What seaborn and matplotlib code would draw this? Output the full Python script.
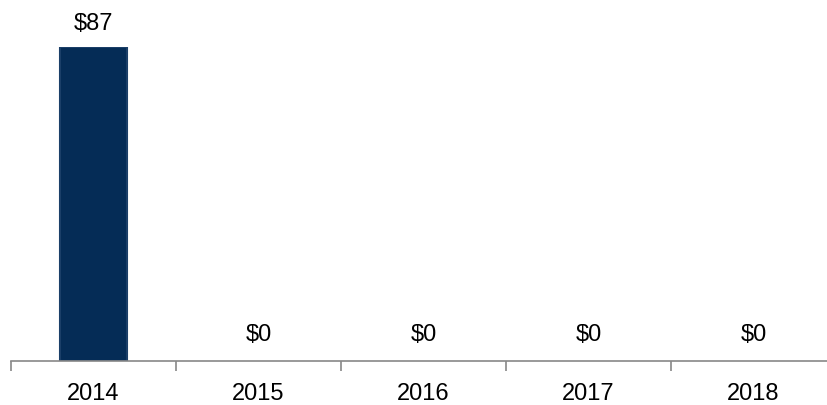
import numpy as np
import pandas as pd
import matplotlib.pyplot as plt
import seaborn as sns

years = ['2014', '2015', '2016', '2017', '2018']
values = [87, 0, 0, 0, 0]
labels = ['$87', '$0', '$0', '$0', '$0']

df = pd.DataFrame({'Year': years, 'Value': values})

sns.set_style('white')
plt.rcParams['font.family'] = ['Liberation Sans', 'DejaVu Sans']

fig = plt.figure(figsize=(8.28, 4.05), dpi=100)
# axis runs a bit past the right edge, as in the original
ax = fig.add_axes([11 / 828, 44 / 405, 825 / 828, 314 / 405])

sns.barplot(x='Year', y='Value', data=df, color='#052c56', width=0.41,
            edgecolor='#1b3f68', linewidth=1.5, saturation=1, ax=ax)
for p in ax.patches:
    if p.get_height() == 0:
        p.set_linewidth(0)

ax.set_xlim(-0.5, 4.5)
ax.set_ylim(0, 87)

for i, (v, lab) in enumerate(zip(values, labels)):
    ax.annotate(lab, (i, v), xytext=(0, 8.5 if v > 0 else 10.5),
                textcoords='offset points', ha='center', va='bottom',
                fontsize=17, color='black', annotation_clip=False)

for side in ['top', 'right', 'left']:
    ax.spines[side].set_visible(False)
ax.spines['bottom'].set_color('#888888')
ax.spines['bottom'].set_linewidth(1.2)

ax.set_yticks([])
ax.set_xticks(range(len(years)))
ax.set_xticklabels(years, fontsize=17, color='black')
ax.set_xticks(np.arange(-0.5, 5, 1), minor=True)
ax.tick_params(axis='x', which='major', length=0, pad=16, bottom=True)
ax.tick_params(axis='x', which='minor', length=7, width=1.2, bottom=True,
               color='#888888', direction='out')
ax.set_xlabel('')
ax.set_ylabel('')

plt.savefig('out.png', dpi=100)
